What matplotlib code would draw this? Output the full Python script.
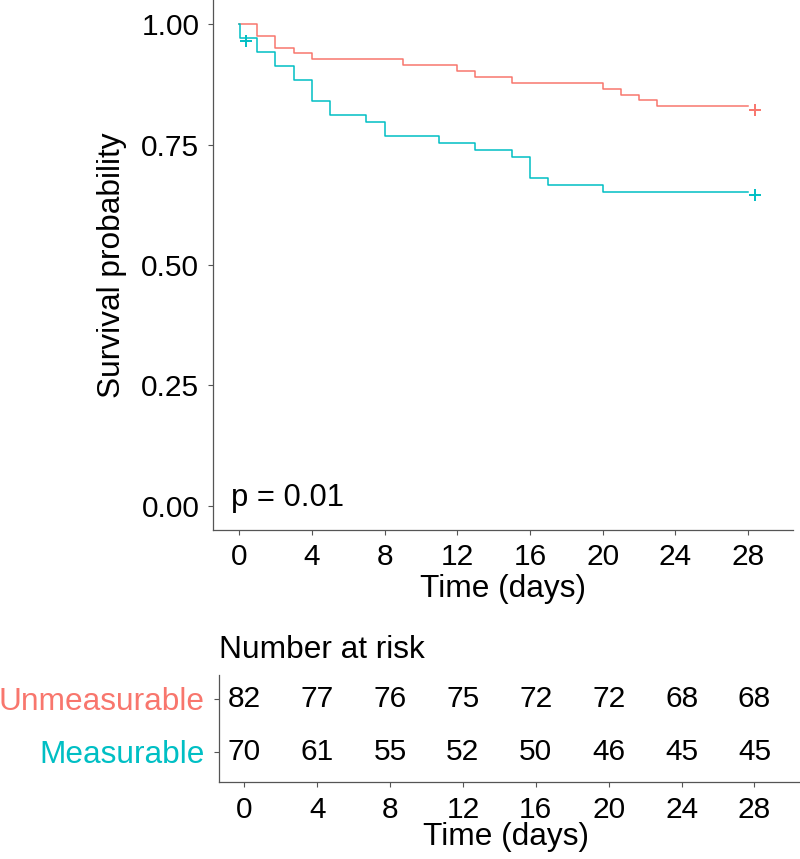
import numpy as np
import matplotlib
matplotlib.use("Agg")
import matplotlib.pyplot as plt
from matplotlib.transforms import offset_copy

""" data """
# Kaplan-Meier steps
unmeas_time = [0, 1, 2, 3, 4, 9, 12, 13, 15, 20, 21, 22, 23, 28]
unmeas_surv = [1.0, 0.9756, 0.9512, 0.9390, 0.9268, 0.9146, 0.9024, 0.8902,
               0.8780, 0.8659, 0.8537, 0.8415, 0.8293, 0.8293]
meas_time = [0, 0.05, 1, 2, 3, 4, 5, 7, 8, 11, 13, 15, 16, 17, 20, 28]
meas_surv = [1.0, 0.9714, 0.9424, 0.9134, 0.8844, 0.8409, 0.8119, 0.7974,
             0.7684, 0.7539, 0.7394, 0.7249, 0.6814, 0.6669, 0.6524, 0.6524]
# censor marks
unmeas_cens_t = [28.4]
unmeas_cens_s = [0.8293]
meas_cens_t = [0.4, 28.4]
meas_cens_s = [0.9714, 0.6524]

groups = ['Unmeasurable', 'Measurable']
risk_times = [0, 4, 8, 12, 16, 20, 24, 28]
risk_unmeas = [82, 77, 76, 75, 72, 72, 68, 68]
risk_meas = [70, 61, 55, 52, 50, 46, 45, 45]
pval_text = 'p = 0.01'

""" style """
RED = '#F8766D'
TEAL = '#00BFC4'
FS_TICK = 21.5   # tick labels and numbers
FS_LAB = 22.8    # axis titles, group names
plt.rcParams['font.family'] = ['Liberation Sans', 'DejaVu Sans']

W, H = 800, 859
fig = plt.figure(figsize=(W / 100, H / 100), dpi=100)


def px_axes(left, top, right, bottom):
    # axes from pixel box (top-left origin)
    return fig.add_axes([left / W, 1 - bottom / H, (right - left) / W, (bottom - top) / H])


def style_axes(ax):
    for s in ['top', 'right']:
        ax.spines[s].set_visible(False)
    for s in ['left', 'bottom']:
        ax.spines[s].set_color('#555555')
        ax.spines[s].set_linewidth(0.9)
    ax.tick_params(length=3.6, width=0.8, color='#555555', labelsize=FS_TICK, pad=6)


""" main survival plot """
ax = px_axes(212.7, 0, 792.7, 530)
style_axes(ax)
ax.step(unmeas_time, unmeas_surv, where='post', color=RED, lw=1.1)
ax.step(meas_time, meas_surv, where='post', color=TEAL, lw=1.1)
off = offset_copy(ax.transData, fig=fig, x=0, y=-2.6, units='points')
ax.plot(unmeas_cens_t, unmeas_cens_s, '+', color=RED, ms=9, mew=1.4, transform=off)
ax.plot(meas_cens_t, meas_cens_s, '+', color=TEAL, ms=9, mew=1.4, transform=off)
ax.set_xlim(-1.45, 30.45)
ax.set_ylim(-0.05, 1.05)
ax.set_xticks(risk_times)
ax.set_yticks([0, 0.25, 0.5, 0.75, 1.0])
ax.set_yticklabels(['0.00', '0.25', '0.50', '0.75', '1.00'])
ax.set_xlabel('Time (days)', fontsize=FS_LAB, va='baseline')
ax.xaxis.set_label_coords(0.5, (530 - 596.7) / 530)
ax.set_ylabel('Survival probability', fontsize=FS_LAB)
ax.yaxis.set_label_coords((127 - 212.7) / 580, 0.5)
ax.text(-0.45, 0.0, pval_text, fontsize=22.3, ha='left', va='baseline')

""" risk table """
axr = px_axes(219.3, 675, 800, 782.3)
style_axes(axr)
for x, n in zip(risk_times, risk_unmeas):
    axr.text(x, 2, str(n), ha='center', va='center', fontsize=FS_TICK)
for x, n in zip(risk_times, risk_meas):
    axr.text(x, 1, str(n), ha='center', va='center', fontsize=FS_TICK)
axr.set_xlim(-1.37, 30.5)
axr.set_ylim(0.42, 2.455)
axr.set_xticks(risk_times)
axr.set_yticks([2, 1])
axr.set_yticklabels(groups, fontsize=FS_LAB)
axr.tick_params(axis='y', pad=7)
for lab, c in zip(axr.get_yticklabels(), [RED, TEAL]):
    lab.set_color(c)
axr.set_xlabel('Time (days)', fontsize=FS_LAB, va='baseline')
axr.xaxis.set_label_coords((506 - 219.3) / 580.7, (782.3 - 845) / 107.3)
axr.set_title('Number at risk', loc='left', fontsize=FS_LAB, y=(782.3 - 657.5) / 107.3, pad=0)

fig.savefig('out.png', dpi=100)
